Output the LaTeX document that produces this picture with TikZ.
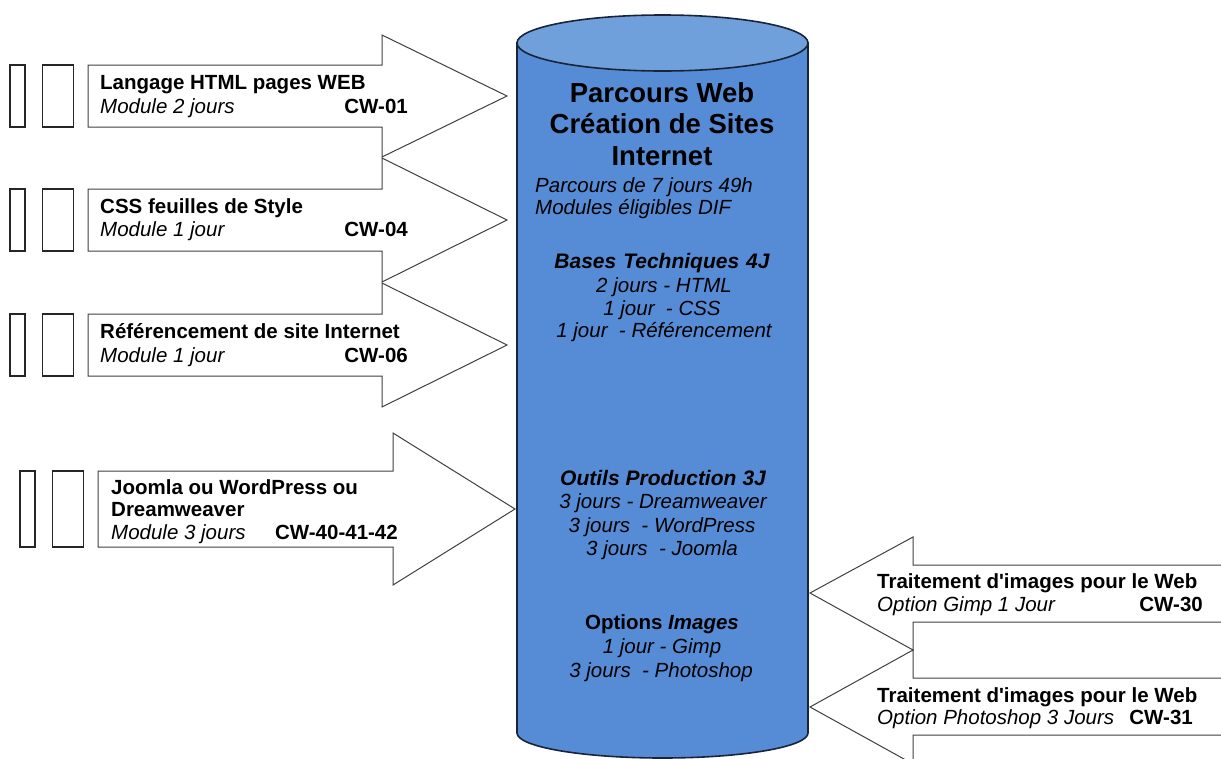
\documentclass[tikz,border=0pt]{standalone}
\usepackage{fontspec}
\setmainfont{Liberation Sans}
\usetikzlibrary{positioning}

\definecolor{cylbody}{HTML}{558CD5}
\definecolor{cyltop}{HTML}{6FA0DC}
\definecolor{cyledge}{HTML}{1A2438}
\newcommand\txt{\fontsize{20.5}{24}\selectfont}
\newcommand\titretxt{\fontsize{27.5}{31.5}\selectfont}

\tikzset{
  fleche/.style={draw=black!75, fill=white, line width=1pt, line join=miter},
  slot/.style={draw=black!85, fill=white, line width=1.2pt, inner sep=0pt,
    minimum height=62pt},
  gras/.style={inner sep=0pt, anchor=base west, font=\txt\bfseries},
  ital/.style={inner sep=0pt, anchor=base west, font=\txt\itshape},
  code/.style={inner sep=0pt, anchor=base east, font=\txt\bfseries},
  titre/.style={inner sep=0pt, anchor=base, font=\titretxt\bfseries},
  cyl/.style={inner sep=0pt, anchor=base, font=\txt\itshape},
  cylgras/.style={inner sep=0pt, anchor=base, font=\fontsize{21}{24}\selectfont\bfseries\itshape},
}

\begin{document}
\begin{tikzpicture}[x=1pt,y=-1pt,node distance=16pt]
\useasboundingbox (0,0) rectangle (1221,758);

% cylindre central
\draw[cyledge, fill=cylbody, line width=1.6pt]
  (517,43) -- (517,733) arc[start angle=180, end angle=0, x radius=145.5, y radius=25]
  -- (808,43) -- cycle;
\draw[cyledge, fill=cyltop, line width=1.6pt]
  (662.5,43) ellipse[x radius=145.5, y radius=28];

\node[titre] (pw)  at (662,102) {Parcours Web};
\node[titre] (cs)  at (662,133) {Création de Sites};
\node[titre] (int) at (662,165) {Internet};
\node[ital] (duree) at (535,192) {Parcours de 7 jours 49h};
\node[ital] (dif)   at (535,214) {Modules éligibles DIF};

\node[cylgras] (bases) at (662,268) {Bases\hspace{7pt}Techniques\hspace{7pt}4J};
\node[cyl] (b1) at (664,292) {2 jours - HTML};
\node[cyl] (b2) at (662,315) {1 jour\ \ - CSS};
\node[cyl] (b3) at (664,337) {1 jour\ \ - Référencement};

\node[cylgras] (outils) at (663,485) {Outils\hspace{6pt}Production\hspace{6pt}3J};
\node[cyl] (o1) at (663,508) {3 jours - Dreamweaver};
\node[cyl] (o2) at (662,532) {3 jours\ \ - WordPress};
\node[cyl] (o3) at (662,555) {3 jours\ \ - Joomla};

\node[inner sep=0pt, anchor=base, font=\txt\bfseries] (opt) at (662,629)
  {Options \textit{Images}};
\node[cyl] (i1) at (662,653) {1 jour - Gimp};
\node[cyl] (i2) at (661,677) {3 jours\ \ - Photoshop};

% modules de gauche
\draw[fleche] (88,65) -- (382,65) -- (382,35) -- (507,96) -- (382,157) -- (382,127) -- (88,127) -- cycle;
\draw[fleche] (88,189) -- (382,189) -- (382,158) -- (507,220) -- (382,282) -- (382,251) -- (88,251) -- cycle;
\draw[fleche] (88,314) -- (382,314) -- (382,283) -- (507,345) -- (382,407) -- (382,376) -- (88,376) -- cycle;
\draw[fleche] (98,471) -- (393,471) -- (393,433) -- (515,509) -- (393,585) -- (393,547) -- (98,547) -- cycle;

\node[slot, minimum width=15pt] (s1a) at (17.5,96) {};
\node[slot, minimum width=31pt] (s1b) [right=of s1a] {};
\node[slot, minimum width=15pt] (s2a) at (17.5,220) {};
\node[slot, minimum width=31pt] (s2b) [right=of s2a] {};
\node[slot, minimum width=15pt] (s3a) at (17.5,345) {};
\node[slot, minimum width=31pt] (s3b) [right=of s3a] {};
\node[slot, minimum width=15pt, minimum height=76pt] (s4a) at (27.5,509) {};
\node[slot, minimum width=31pt, minimum height=76pt] (s4b) [right=of s4a] {};

\node[gras] (html)   at (100,89)  {Langage HTML pages WEB};
\node[ital] (html-d) at (100,113) {Module 2 jours};
\node[code] (html-c) at (408,113) {CW-01};

\node[gras] (css)   at (100,213) {CSS feuilles de Style};
\node[ital] (css-d) at (100,236) {Module 1 jour};
\node[code] (css-c) at (408,236) {CW-04};

\node[gras] (ref)   at (100,338) {Référencement de site Internet};
\node[ital] (ref-d) at (100,362) {Module 1 jour};
\node[code] (ref-c) at (408,362) {CW-06};

\node[gras] (cms)   at (111,494)   {Joomla ou WordPress ou};
\node[gras] (cms-2) at (111,516.5) {Dreamweaver};
\node[ital] (cms-d) at (111,539)   {Module 3 jours};
\node[code] (cms-c) at (398,539)   {CW-40-41-42};

% options de droite
\draw[fleche] (1230,565) -- (913,565) -- (913,537) -- (810,593) -- (913,650) -- (913,622) -- (1230,622) -- cycle;
\draw[fleche] (1230,678) -- (913,678) -- (913,650) -- (810,707) -- (913,764) -- (913,735) -- (1230,735) -- cycle;

\node[gras] (gimp)   at (877,588) {Traitement d\textquotesingle images pour le Web};
\node[ital] (gimp-d) at (877,611) {Option Gimp 1 Jour};
\node[code] (gimp-c) at (1203,611) {CW-30};

\node[gras] (ps)   at (877,702) {Traitement d\textquotesingle images pour le Web};
\node[ital] (ps-d) at (877,724) {Option Photoshop 3 Jours};
\node[code] (ps-c) at (1193,724) {CW-31};
\end{tikzpicture}
\end{document}
